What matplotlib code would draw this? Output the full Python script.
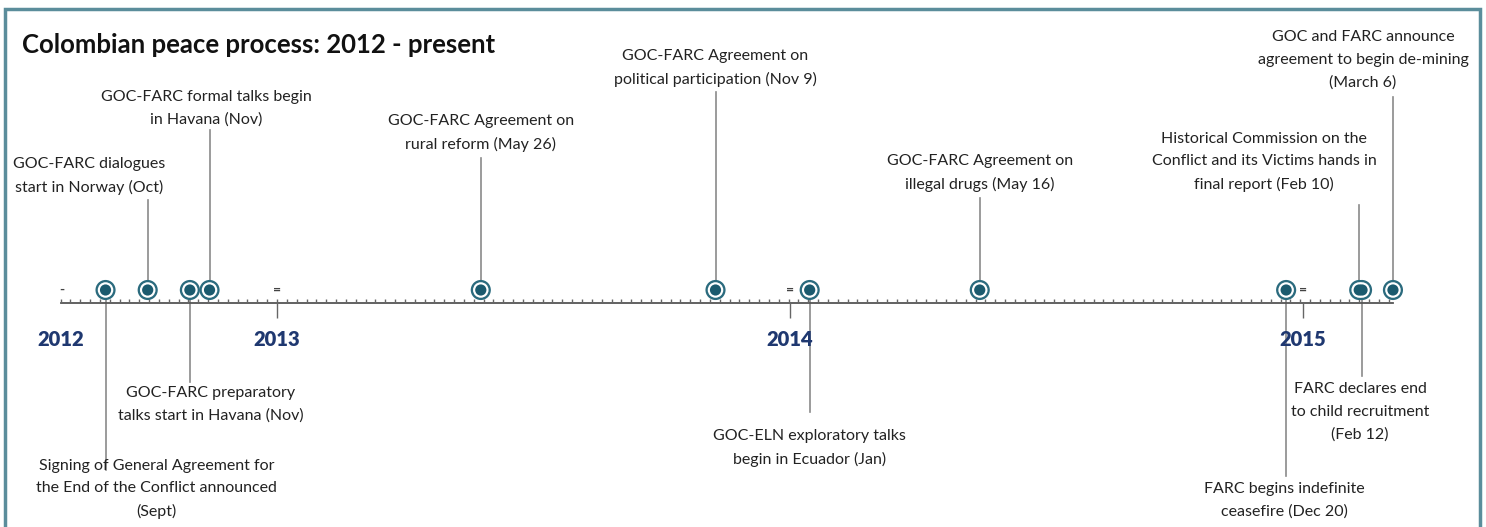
import matplotlib
matplotlib.use('Agg')
import matplotlib.pyplot as plt
import matplotlib.dates as mdates
from matplotlib.patches import Rectangle
import numpy as np
import datetime as dt

plt.rcParams['font.family'] = ['Lato', 'DejaVu Sans']

# Event data
event_dates = ['2012-09-01', '2012-10-01', '2012-10-31', '2012-11-14', '2013-05-26', '2013-11-09',
               '2014-01-15', '2014-05-16', '2014-12-20', '2015-02-10', '2015-02-12', '2015-03-06']
event_labels = [
    'Signing of General Agreement for\nthe End of the Conflict announced\n(Sept)',
    'GOC-FARC dialogues\nstart in Norway (Oct)',
    'GOC-FARC preparatory\ntalks start in Havana (Nov)',
    'GOC-FARC formal talks begin\nin Havana (Nov)',
    'GOC-FARC Agreement on\nrural reform (May 26)',
    'GOC-FARC Agreement on\npolitical participation (Nov 9)',
    'GOC-ELN exploratory talks\nbegin in Ecuador (Jan)',
    'GOC-FARC Agreement on\nillegal drugs (May 16)',
    'FARC begins indefinite\nceasefire (Dec 20)',
    'Historical Commission on the\nConflict and its Victims hands in\nfinal report (Feb 10)',
    'FARC declares end\nto child recruitment\n(Feb 12)',
    'GOC and FARC announce\nagreement to begin de-mining\n(March 6)',
]
axis_start = '2012-07-31'
axis_end = '2015-03-06'
years = [2012, 2013, 2014, 2015]

# Layout (pixel rows, label x offset in px, stem end row)
label_dx = [51, -59, 21, -3, 0, 0, 0, 0, -2, -95, -2, -30]
label_cy = [489, 176, 404, 108, 133, 68, 448, 173, 500, 162, 412, 60]
stem_end = [470, 200, 382, 130, 158, 92, 412, 198, 476, 205, 376, 97]

W, H = 1486, 527
fig = plt.figure(figsize=(W / 100, H / 100), dpi=100)
ax = fig.add_axes([0, 0, 1, 1])
ax.axis('off')

px_per_day = 513 / 365
x_left = mdates.date2num(dt.date(2013, 1, 1)) - 277 / px_per_day
ax.set_xlim(x_left, x_left + W / px_per_day)
ax.set_ylim(H, 0)

dates = mdates.date2num([dt.date.fromisoformat(d) for d in event_dates])
a0 = mdates.date2num(dt.date.fromisoformat(axis_start))
a1 = mdates.date2num(dt.date.fromisoformat(axis_end))

axis_y = 303
marker_y = 290
tc = '#222222'
gray = '#8a8a8a'
teal = '#2b6b7e'
dark = '#1b5a6e'
navy = '#1f3870'

# timeline line and weekly ticks
ax.plot([a0, a1], [axis_y, axis_y], color='#555555', lw=1.3, zorder=2)
weeks = np.arange(a0, a1 + 0.1, 7)
ax.vlines(weeks, axis_y - 4.5, axis_y, color='#666666', lw=1, zorder=2)
for yr in years[1:]:
    yx = mdates.date2num(dt.date(yr, 1, 1))
    ax.vlines(yx, axis_y, axis_y + 15, color='#666666', lw=1, zorder=2)
    ax.text(yx, marker_y, '=', ha='center', va='center', fontsize=10, fontweight='bold', color='#444444')
    ax.text(yx, 340, str(yr), ha='center', va='center', fontsize=14.5, fontweight='heavy', color=navy)
ax.text(a0 + 1, marker_y, '-', ha='center', va='center', fontsize=10, fontweight='bold', color='#444444')
ax.text(a0, 340, str(years[0]), ha='center', va='center', fontsize=14.5, fontweight='heavy', color=navy)

# stems, markers and labels
for d, lab, dx, cy, se in zip(dates, event_labels, label_dx, label_cy, stem_end):
    ax.plot([d, d], [marker_y, se], color=gray, lw=1.2, zorder=1)
    ax.text(d + dx / px_per_day, cy, lab, ha='center', va='center', fontsize=11.5,
            color=tc, linespacing=1.75, zorder=3)
ax.scatter(dates, [marker_y] * len(dates), s=210, facecolor=teal, edgecolor='none', zorder=4)
ax.scatter(dates, [marker_y] * len(dates), s=125, facecolor='white', edgecolor='none', zorder=5)
ax.scatter(dates, [marker_y] * len(dates), s=65, facecolor=dark, edgecolor='none', zorder=6)

fig.text(22 / W, 1 - 45 / H, 'Colombian peace process: 2012 - present', ha='left', va='center',
         fontsize=18.5, fontweight='bold', color='#111111')

fig.patches.append(Rectangle((5 / W, -0.05), 1475 / W, 1.05 - 9 / H, transform=fig.transFigure,
                             fill=False, edgecolor='#5b8d9b', lw=2.5))

fig.savefig('out.png', dpi=100, facecolor='white')
